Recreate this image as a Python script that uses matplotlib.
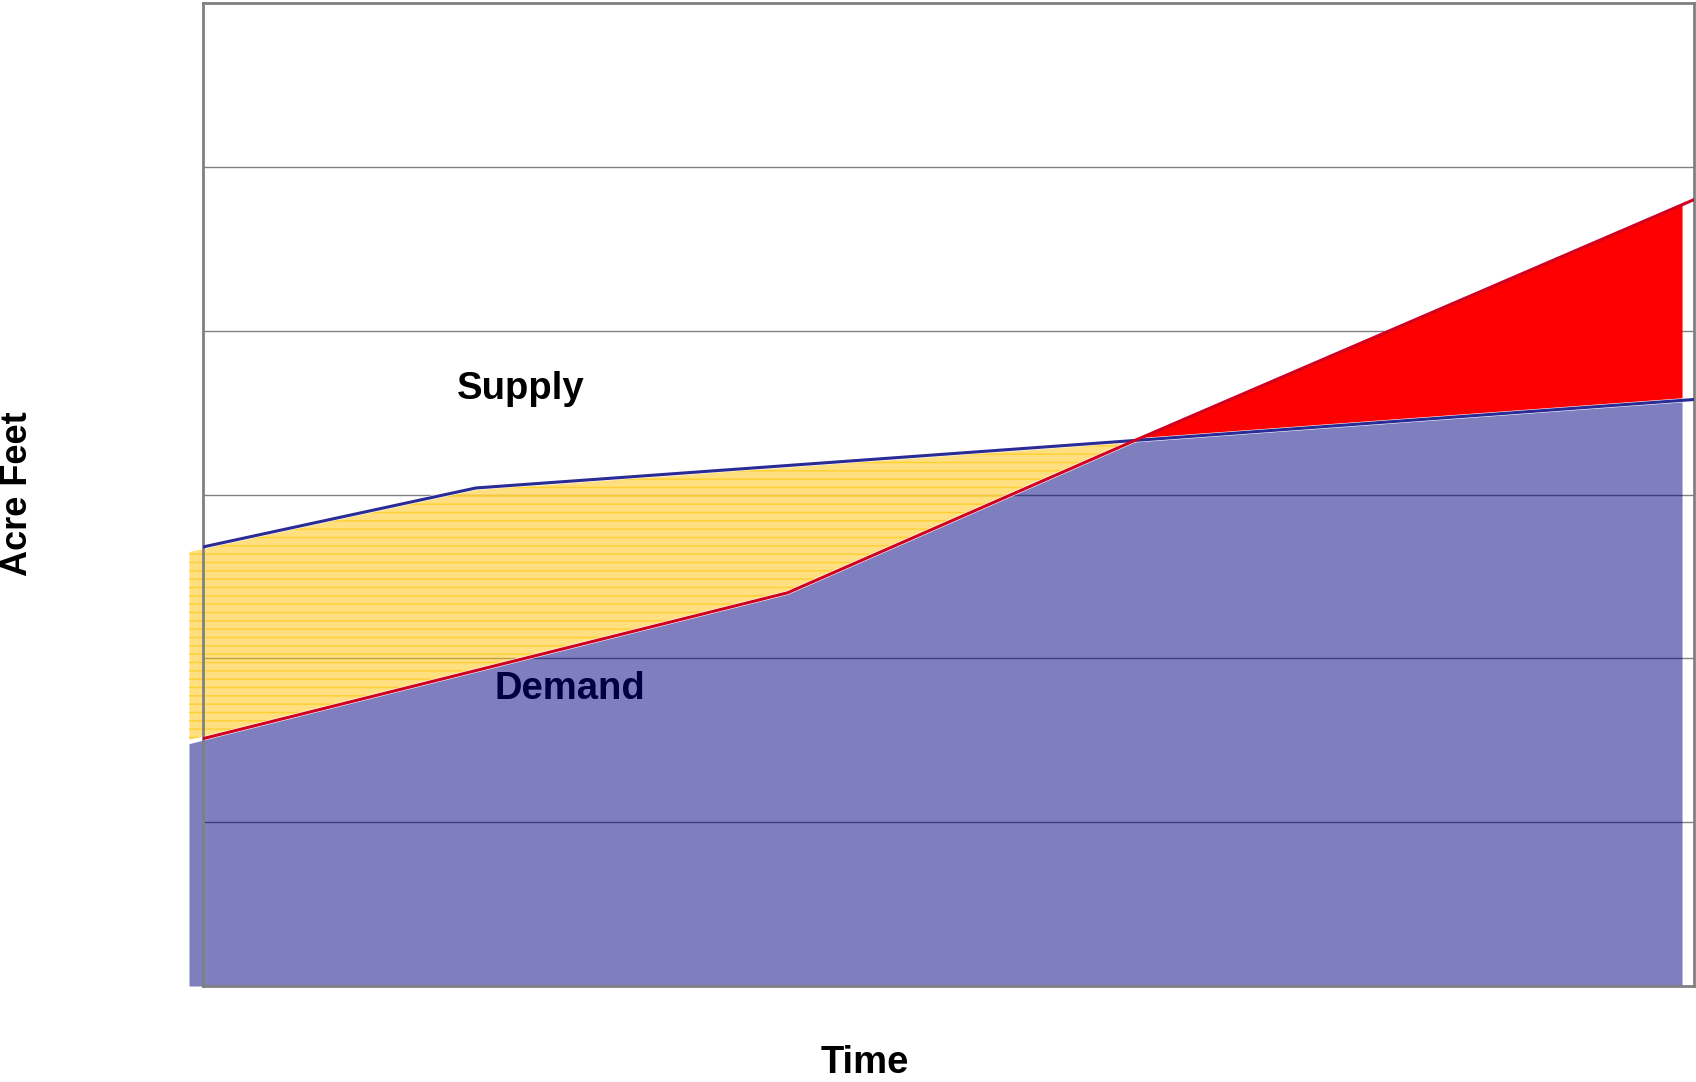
import numpy as np
import matplotlib
matplotlib.use('Agg')
from matplotlib import pyplot as plt

# supply / demand curves (time in % of width, acre feet in grid units)
supply_x = [0, 18.3, 62.5, 100]
supply_y = [2.68, 3.04, 3.33, 3.58]
demand_x = [0, 39.2, 62.5, 100]
demand_y = [1.51, 2.40, 3.33, 4.80]
fill_start, fill_end = -0.94, 99.2
cross_x = 62.5


def line_at(xs, ys, x):
    # linear value along the polyline, extended past the ends
    x = np.asarray(x, dtype=float)
    out = np.interp(x, xs, ys)
    lo = x < xs[0]
    out[lo] = ys[0] + (x[lo] - xs[0]) * (ys[1] - ys[0]) / (xs[1] - xs[0])
    return out


xs = np.array(sorted(set([fill_start, fill_end] + supply_x[:-1] + demand_x[1:-1])))
s = line_at(supply_x, supply_y, xs)
d = line_at(demand_x, demand_y, xs)

plt.rcParams['font.family'] = ['Liberation Sans', 'DejaVu Sans']
fig = plt.figure(figsize=(16.96, 10.82), dpi=100)
ax = fig.add_axes([0.1197, 0.0887, 0.8791, 0.9085])

# grid lines
for g in range(1, 6):
    ax.axhline(g, color='#808080', lw=1, zorder=0.5)

# blue area under the lower curve
ax.fill_between(xs, 0, np.minimum(s, d), color='#000080', alpha=0.5,
                lw=0, zorder=1, clip_on=False)
# yellow surplus
ax.fill_between(xs, d, s, where=s >= d, color='#FFC000', alpha=0.5,
                lw=0, zorder=1, clip_on=False)
ax.fill_between(xs, d, s, where=s >= d, facecolor='none', edgecolor='#FFD030',
                hatch='--', lw=0, zorder=1.1, clip_on=False)
# red shortage
ax.fill_between(xs, s, d, where=d >= s, color='#FF0000', lw=0,
                zorder=1.2, clip_on=False)

# white seams along the fill tops
ax.plot(xs, s, color='white', lw=3, zorder=1.5, clip_on=False)
left = xs <= cross_x
ax.plot(xs[left], d[left], color='white', lw=3, zorder=1.5, clip_on=False)

ax.plot(supply_x, supply_y, color='#2B2B96', lw=2.2, zorder=3)
ax.plot(demand_x, demand_y, color='#D00020', lw=2.2, zorder=3)

ax.set_xlim(0, 100)
ax.set_ylim(0, 6)
ax.set_xticks([])
ax.set_yticks([])
for sp in ax.spines.values():
    sp.set_color('#808080')
    sp.set_linewidth(2)

ax.text(21.3, 3.645, 'Supply', fontsize=27.5, fontweight='bold', color='black',
        ha='center', va='center')
ax.text(24.6, 1.81, 'Demand', fontsize=27.5, fontweight='bold', color='#000040',
        ha='center', va='center', zorder=4)

fig.text(865 / 1696, 1 - 1063 / 1082, 'Time', fontsize=27.5, fontweight='bold',
         ha='center', va='center')
fig.text(18 / 1696, 1 - 494 / 1082, 'Acre Feet', fontsize=26, fontweight='bold',
         rotation=90, ha='center', va='center')

fig.savefig('out.png', dpi=100)
